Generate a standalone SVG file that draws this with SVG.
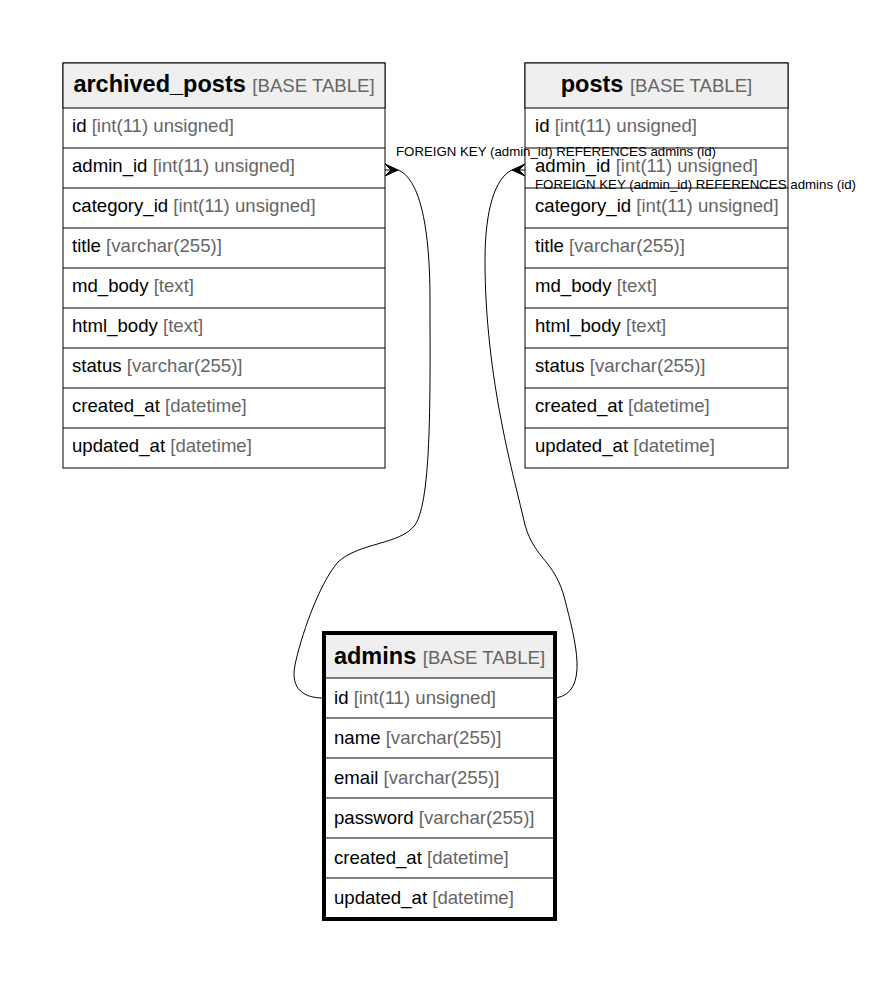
<svg xmlns="http://www.w3.org/2000/svg" width="871" height="987" viewBox="0 0 871 987">
<style>
text{font-family:"Liberation Sans",Arial,sans-serif;fill:#000}
.row{font-size:18.6px}
.ty{fill:#666}
.hd{font-size:23.5px;font-weight:bold}
.hs{font-size:18.6px;font-weight:normal;fill:#666}
.box{fill:#fff;stroke:#000;stroke-width:1}
.head{fill:#efefef;stroke:#000;stroke-width:1}
.sep{stroke:#000;stroke-width:1}
.edge{fill:none;stroke:#000;stroke-width:1}
.crow{fill:#000;stroke:#000;stroke-width:1}
.lbl{font-size:13px}
</style>
<rect width="871" height="987" fill="#fff"/>
<g id="archived_posts">
<rect class="box" x="63" y="63" width="322" height="405"/>
<rect class="head" x="63" y="63" width="322" height="45"/>
<text class="hd" x="224" y="92" text-anchor="middle">archived_posts <tspan class="hs">[BASE TABLE]</tspan></text>
<line class="sep" x1="63" y1="148" x2="385" y2="148"/>
<line class="sep" x1="63" y1="188" x2="385" y2="188"/>
<line class="sep" x1="63" y1="228" x2="385" y2="228"/>
<line class="sep" x1="63" y1="268" x2="385" y2="268"/>
<line class="sep" x1="63" y1="308" x2="385" y2="308"/>
<line class="sep" x1="63" y1="348" x2="385" y2="348"/>
<line class="sep" x1="63" y1="388" x2="385" y2="388"/>
<line class="sep" x1="63" y1="428" x2="385" y2="428"/>
<text class="row" x="72" y="132">id <tspan class="ty">[int(11) unsigned]</tspan></text>
<text class="row" x="72" y="172">admin_id <tspan class="ty">[int(11) unsigned]</tspan></text>
<text class="row" x="72" y="212">category_id <tspan class="ty">[int(11) unsigned]</tspan></text>
<text class="row" x="72" y="252">title <tspan class="ty">[varchar(255)]</tspan></text>
<text class="row" x="72" y="292">md_body <tspan class="ty">[text]</tspan></text>
<text class="row" x="72" y="332">html_body <tspan class="ty">[text]</tspan></text>
<text class="row" x="72" y="372">status <tspan class="ty">[varchar(255)]</tspan></text>
<text class="row" x="72" y="412">created_at <tspan class="ty">[datetime]</tspan></text>
<text class="row" x="72" y="452">updated_at <tspan class="ty">[datetime]</tspan></text>
</g>
<g id="posts">
<rect class="box" x="525" y="63" width="263" height="405"/>
<rect class="head" x="525" y="63" width="263" height="45"/>
<text class="hd" x="656.5" y="92" text-anchor="middle">posts <tspan class="hs">[BASE TABLE]</tspan></text>
<line class="sep" x1="525" y1="148" x2="788" y2="148"/>
<line class="sep" x1="525" y1="188" x2="788" y2="188"/>
<line class="sep" x1="525" y1="228" x2="788" y2="228"/>
<line class="sep" x1="525" y1="268" x2="788" y2="268"/>
<line class="sep" x1="525" y1="308" x2="788" y2="308"/>
<line class="sep" x1="525" y1="348" x2="788" y2="348"/>
<line class="sep" x1="525" y1="388" x2="788" y2="388"/>
<line class="sep" x1="525" y1="428" x2="788" y2="428"/>
<text class="row" x="535" y="132">id <tspan class="ty">[int(11) unsigned]</tspan></text>
<text class="row" x="535" y="172">admin_id <tspan class="ty">[int(11) unsigned]</tspan></text>
<text class="row" x="535" y="212">category_id <tspan class="ty">[int(11) unsigned]</tspan></text>
<text class="row" x="535" y="252">title <tspan class="ty">[varchar(255)]</tspan></text>
<text class="row" x="535" y="292">md_body <tspan class="ty">[text]</tspan></text>
<text class="row" x="535" y="332">html_body <tspan class="ty">[text]</tspan></text>
<text class="row" x="535" y="372">status <tspan class="ty">[varchar(255)]</tspan></text>
<text class="row" x="535" y="412">created_at <tspan class="ty">[datetime]</tspan></text>
<text class="row" x="535" y="452">updated_at <tspan class="ty">[datetime]</tspan></text>
</g>
<g id="admins">
<rect x="324" y="633" width="231" height="286" fill="#fff" stroke="#000" stroke-width="4"/>
<rect x="326" y="635" width="227" height="43" fill="#efefef"/>
<line class="sep" x1="324" y1="678" x2="555" y2="678"/>
<line class="sep" x1="324" y1="718" x2="555" y2="718"/>
<line class="sep" x1="324" y1="758" x2="555" y2="758"/>
<line class="sep" x1="324" y1="798" x2="555" y2="798"/>
<line class="sep" x1="324" y1="838" x2="555" y2="838"/>
<line class="sep" x1="324" y1="878" x2="555" y2="878"/>
<text class="hd" x="439.5" y="664" text-anchor="middle">admins <tspan class="hs">[BASE TABLE]</tspan></text>
<text class="row" x="334" y="704">id <tspan class="ty">[int(11) unsigned]</tspan></text>
<text class="row" x="334" y="744">name <tspan class="ty">[varchar(255)]</tspan></text>
<text class="row" x="334" y="784">email <tspan class="ty">[varchar(255)]</tspan></text>
<text class="row" x="334" y="824">password <tspan class="ty">[varchar(255)]</tspan></text>
<text class="row" x="334" y="864">created_at <tspan class="ty">[datetime]</tspan></text>
<text class="row" x="334" y="904">updated_at <tspan class="ty">[datetime]</tspan></text>
</g>
<g id="connectors">
<path class="edge" d="M398,170 C418,178 430,220 430,300 C430,390 432,500 415,525 C400,545 360,542 338,562 C318,585 300,640 295,665 C290,690 305,698 323,698"/>
<path class="crow" d="M398,170 L385,164 L391,170 L385,176 Z"/>
<line class="sep" x1="385" y1="170" x2="398" y2="170"/>
<path class="edge" d="M512,170 C495,178 485,210 485,260 C485,380 515,480 525,525 C535,560 555,560 565,600 C575,640 590,692 556,698"/>
<path class="crow" d="M512,170 L525,164 L519,170 L525,176 Z"/>
<line class="sep" x1="512" y1="170" x2="525" y2="170"/>
<text class="lbl" x="396" y="156" textLength="320" lengthAdjust="spacingAndGlyphs">FOREIGN KEY (admin_id) REFERENCES admins (id)</text>
<text class="lbl" x="535" y="189" textLength="321" lengthAdjust="spacingAndGlyphs">FOREIGN KEY (admin_id) REFERENCES admins (id)</text>
</g>
</svg>
